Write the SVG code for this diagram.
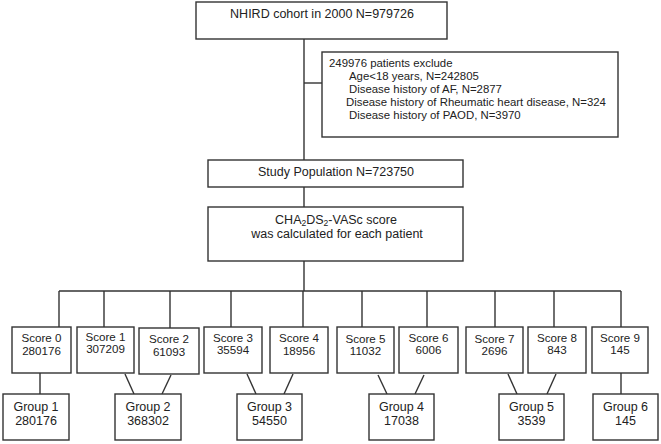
<svg xmlns="http://www.w3.org/2000/svg" width="661" height="444" viewBox="0 0 661 444">
<style>
rect{fill:#fff;stroke:#333;stroke-width:1.4}
line,path{stroke:#333;stroke-width:1.4;fill:none}
text{font-family:"Liberation Sans",Arial,sans-serif;fill:#222;font-size:12.5px}
.c{text-anchor:middle}
.s{font-size:11.6px}
.x{font-size:11.4px}
</style>
<g id="connectors">
<line x1="304" y1="39" x2="304" y2="160"/>
<line x1="304" y1="83" x2="322" y2="83"/>
<line x1="304" y1="187" x2="304" y2="207"/>
<line x1="304" y1="261" x2="304" y2="291"/>
<line x1="59" y1="291" x2="621" y2="291"/>
<line x1="59" y1="291" x2="59" y2="327"/>
<line x1="104" y1="291" x2="104" y2="327"/>
<line x1="170" y1="291" x2="170" y2="328"/>
<line x1="231" y1="291" x2="231" y2="327"/>
<line x1="303" y1="291" x2="303" y2="327"/>
<line x1="362" y1="291" x2="362" y2="327"/>
<line x1="427" y1="291" x2="427" y2="327"/>
<line x1="495" y1="291" x2="495" y2="327"/>
<line x1="554" y1="291" x2="554" y2="327"/>
<line x1="621" y1="291" x2="621" y2="327"/>
<line x1="40" y1="373" x2="40" y2="394"/>
<line x1="125" y1="374" x2="134" y2="394"/>
<line x1="171" y1="375" x2="162" y2="394"/>
<line x1="247" y1="374" x2="256" y2="394"/>
<line x1="293" y1="374" x2="284" y2="394"/>
<line x1="378" y1="375" x2="387" y2="394"/>
<line x1="424" y1="375" x2="415" y2="394"/>
<line x1="508" y1="374" x2="517" y2="394"/>
<line x1="556" y1="374" x2="547" y2="394"/>
<line x1="621" y1="373" x2="621" y2="394"/>
</g>
<g id="cohort"><rect x="196" y="2" width="251" height="37"/><text class="c" x="322" y="18">NHIRD cohort in 2000 N=979726</text></g>
<g id="exclude"><rect x="322" y="52" width="296" height="85"/>
<text class="x" x="329" y="67">249976 patients exclude</text>
<text class="x" x="349" y="80">Age&lt;18 years, N=242805</text>
<text class="x" x="349" y="93">Disease history of AF, N=2877</text>
<text class="x" x="346" y="106">Disease history of Rheumatic heart disease, N=324</text>
<text class="x" x="349" y="119">Disease history of PAOD, N=3970</text>
</g>
<g id="study"><rect x="208" y="160" width="255" height="27"/><text class="c" x="336" y="176">Study Population N=723750</text></g>
<g id="cha"><rect x="208" y="207" width="255" height="54"/>
<text class="c" x="336" y="224">CHA<tspan font-size="8.5" dy="2">2</tspan><tspan dy="-2">DS</tspan><tspan font-size="8.5" dy="2">2</tspan><tspan dy="-2">-VASc score</tspan></text>
<text class="c" x="337" y="238">was calculated for each patient</text>
</g>
<g id="s0"><rect x="12" y="327" width="59" height="46"/><text class="c s" x="41.5" y="342">Score 0</text><text class="c s" x="41.5" y="355">280176</text></g>
<g id="s1"><rect x="77" y="327" width="57" height="46"/><text class="c s" x="105.5" y="341">Score 1</text><text class="c s" x="105.5" y="353">307209</text></g>
<g id="s2"><rect x="139" y="328" width="60" height="46"/><text class="c s" x="169" y="343">Score 2</text><text class="c s" x="169" y="356">61093</text></g>
<g id="s3"><rect x="204" y="327" width="58" height="46"/><text class="c s" x="233" y="342">Score 3</text><text class="c s" x="233" y="354">35594</text></g>
<g id="s4"><rect x="270" y="327" width="58" height="46"/><text class="c s" x="299" y="342">Score 4</text><text class="c s" x="299" y="355">18956</text></g>
<g id="s5"><rect x="337" y="327" width="57" height="46"/><text class="c s" x="365.5" y="343">Score 5</text><text class="c s" x="365.5" y="355">11032</text></g>
<g id="s6"><rect x="399" y="327" width="59" height="46"/><text class="c s" x="428.5" y="342">Score 6</text><text class="c s" x="428.5" y="354">6006</text></g>
<g id="s7"><rect x="466" y="327" width="57" height="46"/><text class="c s" x="494.5" y="343">Score 7</text><text class="c s" x="494.5" y="355">2696</text></g>
<g id="s8"><rect x="528" y="327" width="58" height="46"/><text class="c s" x="557" y="342">Score 8</text><text class="c s" x="557" y="354">843</text></g>
<g id="s9"><rect x="592" y="327" width="56" height="46"/><text class="c s" x="620" y="342">Score 9</text><text class="c s" x="620" y="354">145</text></g>
<g id="g1"><rect x="3" y="394" width="66" height="46"/><text class="c" x="36" y="411">Group 1</text><text class="c" x="36" y="425">280176</text></g>
<g id="g2"><rect x="115" y="394" width="66" height="46"/><text class="c" x="148" y="411">Group 2</text><text class="c" x="148" y="425">368302</text></g>
<g id="g3"><rect x="237" y="394" width="65" height="46"/><text class="c" x="269.5" y="411">Group 3</text><text class="c" x="269.5" y="425">54550</text></g>
<g id="g4"><rect x="369" y="394" width="65" height="46"/><text class="c" x="401.5" y="411">Group 4</text><text class="c" x="401.5" y="425">17038</text></g>
<g id="g5"><rect x="499" y="394" width="65" height="46"/><text class="c" x="531.5" y="411">Group 5</text><text class="c" x="531.5" y="425">3539</text></g>
<g id="g6"><rect x="593" y="394" width="65" height="46"/><text class="c" x="625.5" y="411">Group 6</text><text class="c" x="625.5" y="425">145</text></g>
</svg>
